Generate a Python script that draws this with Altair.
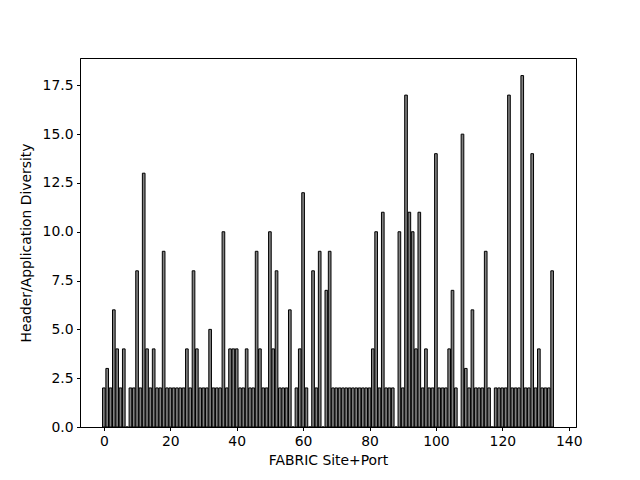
import altair as alt
import pandas as pd

# Header/Application diversity per FABRIC site+port (index 0..135)
diversity = [
    2, 3, 2, 6, 4, 2, 4, 0, 2, 2,
    8, 2, 13, 4, 2, 4, 2, 2, 9, 2,
    2, 2, 2, 2, 2, 4, 2, 8, 4, 2,
    2, 2, 5, 2, 2, 2, 10, 2, 4, 4,
    4, 2, 2, 4, 2, 2, 9, 4, 2, 2,
    10, 4, 8, 2, 2, 2, 6, 0, 2, 4,
    12, 2, 0, 8, 2, 9, 0, 7, 9, 2,
    2, 2, 2, 2, 2, 2, 2, 2, 2, 2,
    2, 4, 10, 2, 11, 2, 2, 2, 0, 10,
    2, 17, 11, 10, 4, 11, 2, 4, 2, 2,
    14, 2, 2, 2, 4, 7, 2, 0, 15, 3,
    2, 6, 2, 2, 2, 9, 2, 0, 2, 2,
    2, 2, 17, 2, 2, 2, 18, 2, 2, 14,
    2, 4, 2, 2, 2, 8,
]
sites = list(range(len(diversity)))
x_ticks = [0, 20, 40, 60, 80, 100, 120, 140]
y_ticks = [0, 2.5, 5, 7.5, 10, 12.5, 15, 17.5]

df = pd.DataFrame({"site": sites, "diversity": diversity})

FONT = "DejaVu Sans"
FS = 13.9

chart = (
    alt.Chart(df)
    .transform_calculate(x0="datum.site - 0.4", x1="datum.site + 0.4")
    .mark_bar(fill="#808080", stroke="black", strokeWidth=1)
    .encode(
        x=alt.X(
            "x0:Q",
            scale=alt.Scale(domain=[-7.19, 142.19], nice=False, zero=False),
            axis=alt.Axis(values=x_ticks, format="d", title="FABRIC Site+Port"),
        ),
        x2="x1:Q",
        y=alt.Y(
            "diversity:Q",
            scale=alt.Scale(domain=[0, 18.9], nice=False),
            axis=alt.Axis(values=y_ticks, format=".1f",
                          title="Header/Application Diversity"),
        ),
        y2=alt.datum(0),
    )
    .properties(
        width=496,
        height=369,
        autosize=alt.AutoSizeParams(type="none"),
        padding={"left": 72, "top": 50, "right": 56, "bottom": 45},
        background="white",
    )
    .configure_view(stroke="black", strokeWidth=1)
    .configure_axis(
        grid=False,
        domainColor="black",
        domainWidth=1,
        tickColor="black",
        tickSize=3.5,
        tickWidth=1,
        labelPadding=3.5,
        labelColor="black",
        labelFont=FONT,
        labelFontSize=FS,
        titleFont=FONT,
        titleFontSize=FS,
        titleFontWeight="normal",
        titleColor="black",
    )
    .configure_axisX(titlePadding=6)
    .configure_axisY(titlePadding=9)
)

chart.save("out.html", embed_options={"renderer": "svg", "actions": False})
